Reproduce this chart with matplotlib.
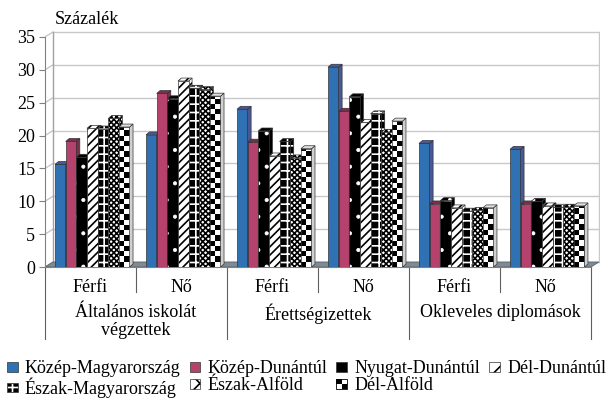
import numpy as np
import matplotlib
matplotlib.use('Agg')
import matplotlib.pyplot as plt
import matplotlib.patches as mpatches
import matplotlib.transforms as mtransforms
from matplotlib.colors import to_rgba
from matplotlib.legend_handler import HandlerBase

plt.rcParams['font.family'] = 'serif'
plt.rcParams['font.serif'] = ['Liberation Serif', 'DejaVu Serif']
plt.rcParams['font.size'] = 13
plt.rcParams['hatch.linewidth'] = 1.2

# data
regions = ['Közép-Magyarország', 'Közép-Dunántúl', 'Nyugat-Dunántúl', 'Dél-Dunántúl',
           'Észak-Magyarország', 'Észak-Alföld', 'Dél-Alföld']
sexes = ['Férfi', 'Nő', 'Férfi', 'Nő', 'Férfi', 'Nő']
groups = ['Általános iskolát\nvégzettek', 'Érettségizettek', 'Okleveles diplomások']

kozep_magyarorszag = [15.6, 20.1, 24.0, 30.4, 18.8, 17.9]
kozep_dunantul = [19.1, 26.4, 19.0, 23.7, 9.6, 9.6]
nyugat_dunantul = [16.7, 25.6, 20.7, 25.9, 10.1, 10.0]
del_dunantul = [21.1, 28.3, 16.9, 22.0, 9.0, 9.3]
eszak_magyarorszag = [21.0, 27.2, 19.1, 23.3, 8.5, 9.1]
eszak_alfold = [22.6, 27.0, 16.6, 20.5, 8.6, 9.1]
del_alfold = [21.3, 26.0, 18.0, 22.2, 9.0, 9.3]

series = [kozep_magyarorszag, kozep_dunantul, nyugat_dunantul, del_dunantul,
          eszak_magyarorszag, eszak_alfold, del_alfold]

# face, hatch, hatch colour, side colour
styles = [
    ('#3071b3', None, None, '#4b5896'),
    ('#b5426c', None, None, '#7a2f4c'),
    ('black', '.', 'white', 'black'),
    ('white', '////', 'black', 'white'),
    ('black', '++', 'white', 'black'),
    ('white', 'xxxxxx', 'black', 'white'),
    ('checker', None, None, 'white'),
]
EDGE = '#333333'


def hatched(cls, *args, face, hatch, hc, **kw):
    p = cls(*args, facecolor=face, edgecolor=EDGE, hatch=hatch, linewidth=0.5, **kw)
    p._hatch_color = to_rgba(hc)  # hatch in its own colour, outline stays dark
    if hatch == '.':
        p._hatch_linewidth = 0.5  # small dots
    return p


fig = plt.figure(figsize=(6.12, 4.0), dpi=100)
ax = fig.add_axes([45 / 612, 133 / 400, 555 / 612, 236.6 / 400])
ax.set_xlim(-0.5, 5.6)
ax.set_ylim(0, 36)

ncat = len(sexes)
x = np.arange(ncat)
w = 0.117
dx, dy = 0.038, 0.45      # bar depth
dxw, dyw = 0.088, 0.76    # wall depth
yticks = np.arange(0, 36, 5)

# back wall, left wall, floor
for v in yticks:
    ax.plot([-0.5 + dxw, 5.5 + dxw], [v + dyw, v + dyw], color='#c8c8cc', lw=1, zorder=0.5)
    ax.plot([-0.5, -0.5 + dxw], [v, v + dyw], color='#c8c8cc', lw=1, zorder=0.5)
ax.plot([-0.5 + dxw, -0.5 + dxw], [dyw, 35 + dyw], color='#a0a0a8', lw=1, zorder=0.5)
ax.plot([5.5 + dxw, 5.5 + dxw], [dyw, 35 + dyw], color='#c8c8cc', lw=1, zorder=0.5)
ax.add_patch(mpatches.Polygon([(-0.5, 0), (-0.5 + dxw, dyw), (5.5 + dxw, dyw), (5.5, 0)],
                              closed=True, facecolor='#7f8a94', edgecolor='#5a636b', lw=0.6, zorder=1))

for j, (vals, (face, hatch, hc, side)) in enumerate(zip(series, styles)):
    z = 3 + j
    xs = x + (j - 3.5) * w + 0.02
    for x0, h in zip(xs, vals):
        x1 = x0 + w
        top = [(x0, h), (x0 + dx, h + dy), (x1 + dx, h + dy), (x1, h)]
        sidep = [(x1, 0), (x1 + dx, dy), (x1 + dx, h + dy), (x1, h)]
        if face == 'checker':
            rect = mpatches.Rectangle((x0, 0), w, h, facecolor='white', lw=0, zorder=z)
            ax.add_patch(rect)
            nr = int(np.ceil(h / 0.8))
            board = np.add.outer(np.arange(nr), np.arange(2)) % 2
            im = ax.imshow(board, extent=[x0, x1, 0, nr * 0.8], origin='lower', cmap='gray',
                           aspect='auto', interpolation='nearest', zorder=z)
            im.set_clip_path(rect)
            ax.add_patch(mpatches.Rectangle((x0, 0), w, h, fill=False, edgecolor=EDGE, lw=0.5, zorder=z))
            ax.add_patch(mpatches.Polygon(sidep, facecolor='#d0d0d0', edgecolor=EDGE, lw=0.5, zorder=z))
            ax.add_patch(mpatches.Polygon(top, facecolor='#e0e0e0', edgecolor=EDGE, lw=0.5, zorder=z))
        elif hatch is None:
            ax.add_patch(mpatches.Rectangle((x0, 0), w, h, facecolor=face, edgecolor=EDGE, lw=0.5, zorder=z))
            ax.add_patch(mpatches.Polygon(sidep, facecolor=side, edgecolor=EDGE, lw=0.5, zorder=z))
            ax.add_patch(mpatches.Polygon(top, facecolor=side, edgecolor=EDGE, lw=0.5, zorder=z))
        else:
            ax.add_patch(hatched(mpatches.Polygon, sidep, face=face, hatch=hatch, hc=hc, zorder=z))
            ax.add_patch(hatched(mpatches.Polygon, top, face=face, hatch=hatch, hc=hc, zorder=z))
            ax.add_patch(hatched(mpatches.Rectangle, (x0, 0), w, h, face=face, hatch=hatch, hc=hc, zorder=z))

# axes
for s in ['top', 'right']:
    ax.spines[s].set_visible(False)
ax.spines['left'].set_bounds(0, 35)
ax.spines['bottom'].set_bounds(-0.5, 5.5)
ax.spines['left'].set_color('#808080')
ax.spines['bottom'].set_color('#808080')
ax.set_yticks(yticks)
ax.set_xticks([])
ax.tick_params(axis='y', direction='out', length=4, color='#808080', labelsize=13, pad=3)

# category labels and separators
tr = mtransforms.blended_transform_factory(ax.transData, fig.transFigure)
for i, s in enumerate(sexes):
    ax.text(x[i], 0.2825, s, transform=tr, ha='center', va='center', fontsize=13)
for i in range(len(groups)):
    ax.text(2 * i + 0.5, 0.24, groups[i], transform=tr, ha='center', va='top',
            fontsize=13, linespacing=1.05)
for xv in x[::2] + 0.5:
    ax.plot([xv, xv], [0.3325, 0.27], transform=tr, color='#606060', lw=0.8, clip_on=False)
for xv in np.arange(-0.5, 6, 2):
    ax.plot([xv, xv], [0.3325, 0.1525], transform=tr, color='#606060', lw=0.8, clip_on=False)

fig.text(55 / 612, 1 - 20 / 400, 'Százalék', ha='left', va='center', fontsize=13)


class CheckerHandler(HandlerBase):
    def create_artists(self, legend, orig_handle, xdescent, ydescent, width, height, fontsize, trans):
        arts = []
        for a in range(2):
            for b in range(2):
                c = 'black' if (a + b) % 2 == 1 else 'white'
                arts.append(mpatches.Rectangle((-xdescent + a * width / 2, -ydescent + b * height / 2),
                                               width / 2, height / 2, facecolor=c, lw=0, transform=trans))
        arts.append(mpatches.Rectangle((-xdescent, -ydescent), width, height, fill=False,
                                       edgecolor='black', lw=0.6, transform=trans))
        return arts


handles = []
for (face, hatch, hc, side), name in zip(styles, regions):
    if face == 'checker':
        handles.append(mpatches.Patch(facecolor='white', label=name))
    elif hatch is None:
        handles.append(mpatches.Patch(facecolor=face, edgecolor=EDGE, lw=0.5, label=name))
    else:
        handles.append(hatched(mpatches.Patch, face=face, hatch=hatch[:2], hc=hc, label=name))

order = [0, 4, 1, 5, 2, 6, 3]
fig.legend([handles[k] for k in order], [regions[k] for k in order], ncol=4,
           loc='center left', bbox_to_anchor=(0.005, 0.052), frameon=False, fontsize=13,
           handlelength=0.6, handleheight=0.45, handletextpad=0.4, columnspacing=0.5,
           labelspacing=0.0, borderaxespad=0, borderpad=0.2,
           handler_map={handles[6]: CheckerHandler()})

fig.savefig('out.png', dpi=100)
